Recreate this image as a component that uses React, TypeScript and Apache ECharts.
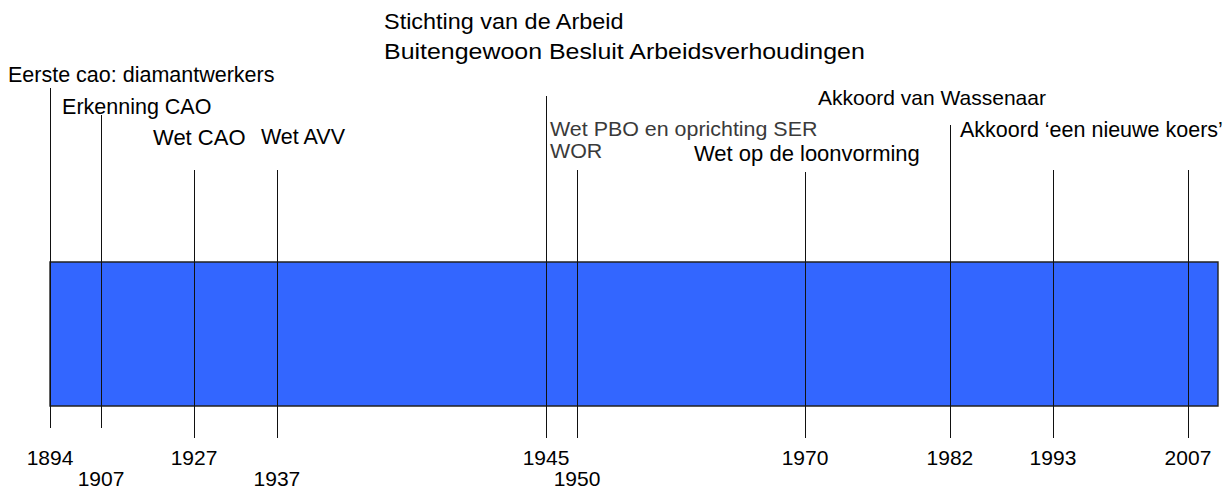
import React, { useEffect, useRef } from "react";
import * as echarts from "echarts";

// ---- data ----
const YEARS = [1894, 1907, 1927, 1937, 1945, 1950, 1970, 1982, 1993, 2007];
// position of each event along the drawn timeline (percent of bar length)
const POSITIONS = [0, 4.37, 12.33, 19.43, 42.47, 45.12, 64.64, 77.05, 85.87, 97.43];
const TIMELINE_START = 0;
const TIMELINE_END = 100;
const LABEL_YEARS = [1894, 1907, 1927, 1937, 1945, 1945, 1950, 1950, 1970, 1982, 1993];
const LABEL_TEXTS = [
  "Eerste cao: diamantwerkers",
  "Erkenning CAO",
  "Wet CAO",
  "Wet AVV",
  "Stichting van de Arbeid",
  "Buitengewoon Besluit Arbeidsverhoudingen",
  "Wet PBO en oprichting SER",
  "WOR",
  "Wet op de loonvorming",
  "Akkoord van Wassenaar",
  "Akkoord \u2018een nieuwe koers\u2019",
];

// ---- layout (pixels on the y axis, offsets, sizes) ----
const LINE_TOP = [88, 115, 170, 170, 96, 170, 172, 125, 170, 170];
const LINE_BOTTOM = [428, 428, 438, 438, 438, 438, 438, 438, 438, 438];
const YEAR_ROW = [0, 1, 0, 1, 0, 1, 0, 0, 0, 0];
const YEAR_ROW_Y = [457, 478];
const BAR_TOP = 262;
const BAR_BOTTOM = 406;
const LABEL_DX = [-42, -39, -41, -16, -162, -162, -27, -27, -111, -132, -93];
const LABEL_Y = [75, 107, 137, 137, 22, 52, 129, 151, 153, 97, 130];
const LABEL_SIZE = [21.5, 21.5, 22, 21.5, 21.5, 21.5, 21, 21, 22, 21, 21.5];
const LABEL_STRETCH = [1, 1, 1, 1, 1.09, 1.16, 1.02, 1.02, 1, 1, 1];
const LABEL_MUTED = [0, 0, 0, 0, 0, 0, 1, 1, 0, 0, 0];

const FONT = '"Liberation Sans", Arial, sans-serif';

export default function App() {
  const ref = useRef<HTMLDivElement>(null);
  useEffect(() => {
    document.body.style.margin = "0";
    const chart = echarts.init(ref.current!, null, { renderer: "svg" });
    const posOfYear = (y: number) => POSITIONS[YEARS.indexOf(y)];
    chart.setOption({
      animation: false,
      backgroundColor: "#ffffff",
      grid: { left: 50, right: 13, top: 0, bottom: 0 },
      xAxis: { type: "value", min: TIMELINE_START, max: TIMELINE_END, show: false },
      yAxis: { type: "value", min: 0, max: 489, inverse: true, show: false },
      series: [
        {
          type: "custom",
          silent: true,
          data: [[TIMELINE_START, TIMELINE_END]],
          renderItem: (params: any, api: any) => {
            const p0 = api.coord([api.value(0), BAR_TOP]);
            const p1 = api.coord([api.value(1), BAR_BOTTOM]);
            return {
              type: "rect",
              shape: { x: p0[0], y: p0[1], width: p1[0] - p0[0], height: p1[1] - p0[1] },
              style: { fill: "#3366FF", stroke: "#222222", lineWidth: 1.4 },
            };
          },
        },
        {
          type: "custom",
          silent: true,
          data: POSITIONS.map((p, i) => [p, YEARS[i]]),
          renderItem: (params: any, api: any) => {
            const i = params.dataIndex;
            const top = api.coord([api.value(0), LINE_TOP[i]]);
            const bot = api.coord([api.value(0), LINE_BOTTOM[i]]);
            const x = Math.round(top[0]) + 0.5;
            const ly = api.coord([api.value(0), YEAR_ROW_Y[YEAR_ROW[i]]]);
            return {
              type: "group",
              children: [
                {
                  type: "line",
                  shape: { x1: x, y1: top[1], x2: x, y2: bot[1] },
                  style: { stroke: "#111111", lineWidth: 1 },
                },
                {
                  type: "text",
                  x: top[0],
                  y: ly[1],
                  style: {
                    text: String(api.value(1)),
                    fill: "#000000",
                    font: `21px ${FONT}`,
                    fontSize: 21,
                    fontFamily: FONT,
                    align: "center",
                    verticalAlign: "middle",
                    textAlign: "center",
                    textVerticalAlign: "middle",
                  },
                },
              ],
            };
          },
        },
        {
          type: "custom",
          silent: true,
          data: LABEL_YEARS.map((y, i) => [posOfYear(y), i]),
          renderItem: (params: any, api: any) => {
            const i = params.dataIndex;
            const p = api.coord([api.value(0), LABEL_Y[i]]);
            return {
              type: "text",
              x: p[0] + LABEL_DX[i],
              y: p[1],
              scaleX: LABEL_STRETCH[i],
              style: {
                text: LABEL_TEXTS[i],
                fill: LABEL_MUTED[i] ? "#3a3a3a" : "#000000",
                font: `${LABEL_SIZE[i]}px ${FONT}`,
                fontSize: LABEL_SIZE[i],
                fontFamily: FONT,
                align: "left",
                verticalAlign: "middle",
                textAlign: "left",
                textVerticalAlign: "middle",
              },
            };
          },
        },
      ],
    });
    return () => chart.dispose();
  }, []);
  return <div ref={ref} style={{ position: "absolute", left: 0, top: 0, width: 1231, height: 489 }} />;
}
